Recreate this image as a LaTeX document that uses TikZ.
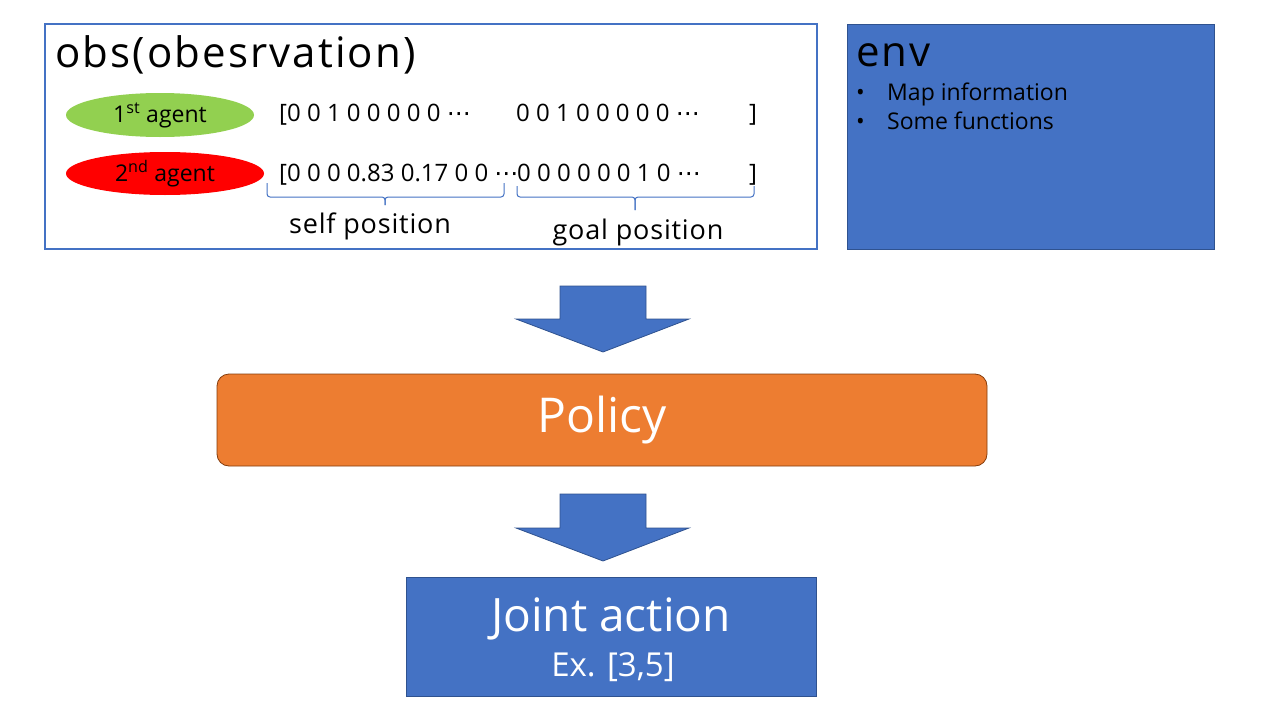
\documentclass[tikz,border=0pt]{standalone}
\usepackage{fontspec}
\setmainfont{Open Sans}
\newfontfamily\dejavu{DejaVu Sans}
\usetikzlibrary{shapes.geometric}
\definecolor{pblue}{HTML}{4472C4}
\definecolor{pdark}{HTML}{2F528F}
\definecolor{porange}{HTML}{ED7D31}
\definecolor{pbrown}{HTML}{843C0C}
\definecolor{pgreen}{HTML}{92D050}
\definecolor{pred}{HTML}{FF0000}
\newcommand{\fs}[2]{\fontsize{#1}{#1}\selectfont\addfontfeature{LetterSpace=#2}}
\newcommand{\cdt}{{\dejavu ⋯}}
\begin{document}
\begin{tikzpicture}[x=1pt,y=-1pt,
  blockarrow/.style={fill=pblue,draw=pdark,line width=0.8pt,line join=miter},
  vec/.style={anchor=base west,inner sep=0pt,font=\fs{24}{0}},
  agent/.style={ellipse,inner sep=0pt,font=\fs{23}{0}},
  bracepath/.style={draw=pblue,line width=1pt,rounded corners=3pt},
  lbl/.style={anchor=base,inner sep=0pt,font=\fs{27}{3}},
  bul/.style={anchor=base west,inner sep=0pt,font=\fs{23}{0}}]
\useasboundingbox (0,0) rectangle (1280,720);
% obs box
\draw[pblue,line width=2.2pt,fill=white] (45,24) rectangle (817,249);
\node[anchor=base west,inner sep=0pt,font=\fs{42}{5}] (obst) at (55,67) {obs(obesrvation)};
\node[agent,fill=pgreen,minimum width=188pt,minimum height=44pt] (a1) at (160,115) {1\textsuperscript{st} agent};
\node[agent,fill=pred,minimum width=198pt,minimum height=43pt] (a2) at (165,173.5) {2\textsuperscript{nd} agent};
\node[vec] (v1a) at (279,121) {[0 0 1 0 0 0 0 0 \cdt};
\node[vec] (v1b) at (516,121) {0 0 1 0 0 0 0 0 \cdt};
\node[vec] (v1c) at (749,121) {]};
\node[vec] (v2a) at (279,181) {[0 0 0 0.83 0.17 0 0 \cdt};
\node[vec] (v2b) at (517,181) {0 0 0 0 0 0 1 0 \cdt};
\node[vec] (v2c) at (749,181) {]};
% braces
\draw[bracepath] (267,183) -- (267,197) -- (385,197) -- (385,205);
\draw[bracepath] (385,205) -- (385,197) -- (504,197) -- (504,183);
\draw[bracepath] (517,186) -- (517,197) -- (635,197) -- (635,210);
\draw[bracepath] (635,210) -- (635,197) -- (754,197) -- (754,186);
\node[lbl] (selfp) at (370,233) {self position};
\node[lbl] (goalp) at (638,239) {goal position};
% env
\draw[fill=pblue,draw=pdark,line width=0.8pt] (847,24) rectangle (1214,249);
\node[anchor=base west,inner sep=0pt,font=\fs{42}{5}] (envt) at (856,66) {env};
\node[bul] (b1) at (856,100) {•};
\node[bul] (e1) at (887,100) {Map information};
\node[bul] (b2) at (856,129) {•};
\node[bul] (e2) at (887,129) {Some functions};
% arrow 1
\draw[blockarrow] (560,286) -- (646,286) -- (646,319) -- (689,319) -- (603,352) -- (516,319) -- (560,319) -- cycle;
% policy
\node[draw=pbrown,fill=porange,line width=0.8pt,rounded corners=12pt,minimum width=770pt,minimum height=92pt,text=white,font=\fs{48}{0}] (policy) at (602,420) {Policy};
% arrow 2
\draw[blockarrow] (560,494) -- (646,494) -- (646,528) -- (689,528) -- (603,561) -- (516,528) -- (560,528) -- cycle;
% joint action
\draw[fill=pblue,draw=pdark,line width=0.8pt] (406,577) rectangle (816,696);
\node[anchor=base,inner sep=0pt,text=white,font=\fs{46}{0}] (ja) at (611,631) {Joint action};
\node[anchor=base,inner sep=0pt,text=white,font=\fs{33}{0}] (ex) at (613,676) {Ex. [3,5]};
\end{tikzpicture}
\end{document}
